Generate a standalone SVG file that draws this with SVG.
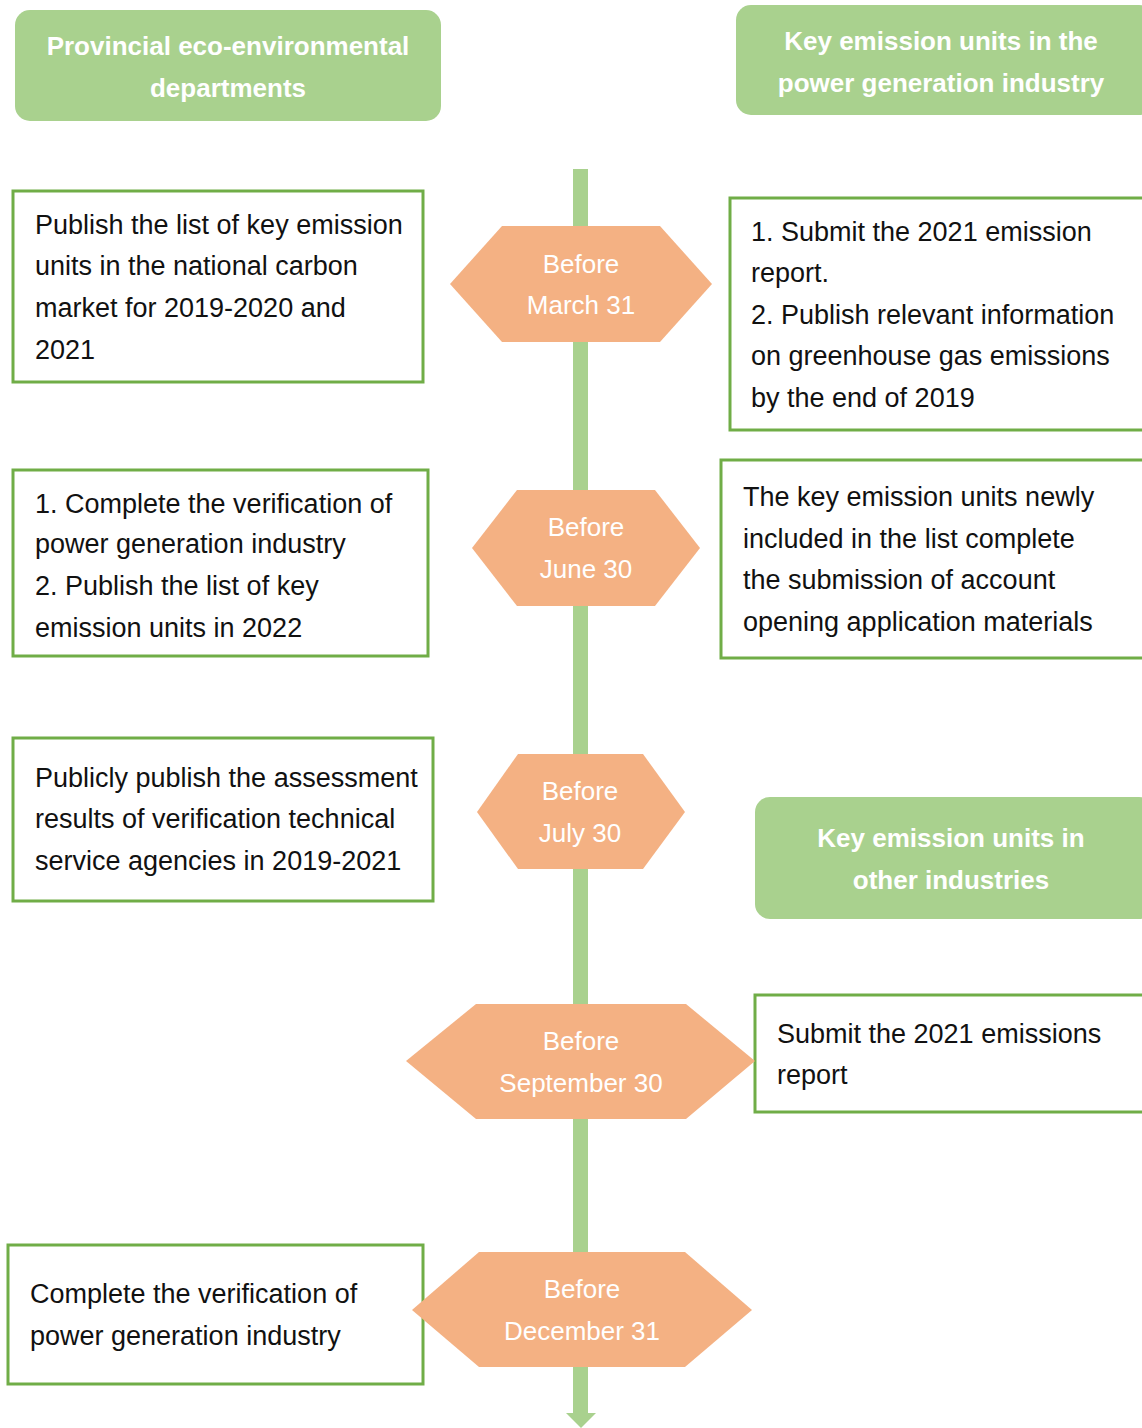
<svg xmlns="http://www.w3.org/2000/svg" width="1142" height="1428" viewBox="0 0 1142 1428">
<style>
.hdr{fill:#A9D18E}
.hdrt{font-family:"Liberation Sans",Arial,sans-serif;font-size:26px;font-weight:bold;fill:#ffffff;text-anchor:middle}
.box{fill:#ffffff;stroke:#70AD47;stroke-width:3}
.bt{font-family:"Liberation Sans",Arial,sans-serif;font-size:27px;fill:#111111}
.hex{fill:#F4B183}
.ht{font-family:"Liberation Sans",Arial,sans-serif;font-size:26px;font-weight:300;fill:#ffffff;text-anchor:middle}
</style>
<rect width="1142" height="1428" fill="#ffffff"/>
<g id="connectors">
<rect x="573" y="169" width="15" height="1245" fill="#A9D18E"/>
<polygon points="566,1413 596,1413 581,1428" fill="#A9D18E"/>
</g>
<g id="hdr-provincial">
<rect class="hdr" x="15" y="10" width="426" height="111" rx="15"/>
<text class="hdrt" x="228" y="55">Provincial eco-environmental</text>
<text class="hdrt" x="228" y="97">departments</text>
</g>
<g id="hdr-power">
<rect class="hdr" x="736" y="5" width="418" height="110" rx="15"/>
<text class="hdrt" x="941" y="50">Key emission units in the</text>
<text class="hdrt" x="941" y="92">power generation industry</text>
</g>
<g id="hdr-other">
<rect class="hdr" x="755" y="797" width="399" height="122" rx="15"/>
<text class="hdrt" x="951" y="847">Key emission units in</text>
<text class="hdrt" x="951" y="889">other industries</text>
</g>
<g id="box-l1">
<rect class="box" x="13" y="191" width="410" height="191"/>
<text class="bt" x="35" y="234">Publish the list of key emission</text>
<text class="bt" x="35" y="275">units in the national carbon</text>
<text class="bt" x="35" y="317">market for 2019-2020 and</text>
<text class="bt" x="35" y="359">2021</text>
</g>
<g id="box-r1">
<rect class="box" x="730" y="198" width="420" height="232"/>
<text class="bt" x="751" y="241">1. Submit the 2021 emission</text>
<text class="bt" x="751" y="282">report.</text>
<text class="bt" x="751" y="324">2. Publish relevant information</text>
<text class="bt" x="751" y="365">on greenhouse gas emissions</text>
<text class="bt" x="751" y="407">by the end of 2019</text>
</g>
<g id="box-l2">
<rect class="box" x="13" y="470" width="415" height="186"/>
<text class="bt" x="35" y="513">1. Complete the verification of</text>
<text class="bt" x="35" y="553">power generation industry</text>
<text class="bt" x="35" y="595">2. Publish the list of key</text>
<text class="bt" x="35" y="637">emission units in 2022</text>
</g>
<g id="box-r2">
<rect class="box" x="721" y="460" width="429" height="198"/>
<text class="bt" x="743" y="506">The key emission units newly</text>
<text class="bt" x="743" y="548">included in the list complete</text>
<text class="bt" x="743" y="589">the submission of account</text>
<text class="bt" x="743" y="631">opening application materials</text>
</g>
<g id="box-l3">
<rect class="box" x="13" y="738" width="420" height="163"/>
<text class="bt" x="35" y="787">Publicly publish the assessment</text>
<text class="bt" x="35" y="828">results of verification technical</text>
<text class="bt" x="35" y="870">service agencies in 2019-2021</text>
</g>
<g id="box-r3">
<rect class="box" x="755" y="995" width="395" height="117"/>
<text class="bt" x="777" y="1043">Submit the 2021 emissions</text>
<text class="bt" x="777" y="1084">report</text>
</g>
<g id="box-l4">
<rect class="box" x="8" y="1245" width="415" height="139"/>
<text class="bt" x="30" y="1303">Complete the verification of</text>
<text class="bt" x="30" y="1345">power generation industry</text>
</g>
<g id="hex-mar">
<polygon class="hex" points="450,284 502,226 660,226 712,284 660,342 502,342"/>
<text class="ht" x="581" y="273">Before</text>
<text class="ht" x="581" y="314">March 31</text>
</g>
<g id="hex-jun">
<polygon class="hex" points="472,548 517,490 655,490 700,548 655,606 517,606"/>
<text class="ht" x="586" y="536">Before</text>
<text class="ht" x="586" y="578">June 30</text>
</g>
<g id="hex-jul">
<polygon class="hex" points="477,812 518,754 643,754 685,812 643,869 518,869"/>
<text class="ht" x="580" y="800">Before</text>
<text class="ht" x="580" y="842">July 30</text>
</g>
<g id="hex-sep">
<polygon class="hex" points="406,1061 476,1004 686,1004 755,1061 686,1119 476,1119"/>
<text class="ht" x="581" y="1050">Before</text>
<text class="ht" x="581" y="1092">September 30</text>
</g>
<g id="hex-dec">
<polygon class="hex" points="412,1310 479,1252 685,1252 752,1310 685,1367 479,1367"/>
<text class="ht" x="582" y="1298">Before</text>
<text class="ht" x="582" y="1340">December 31</text>
</g>
</svg>
